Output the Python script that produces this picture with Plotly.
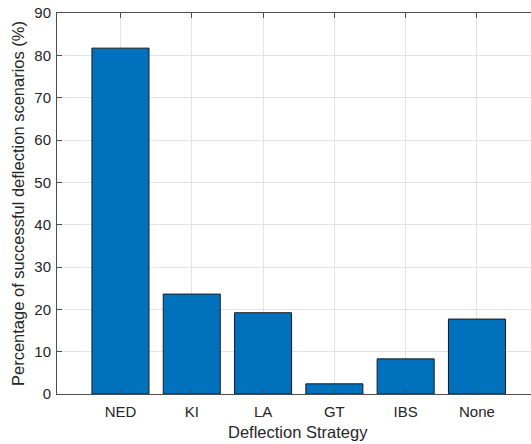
import plotly.graph_objects as go

categories = ["NED", "KI", "LA", "GT", "IBS", "None"]
success_pct = [81.7, 23.6, 19.2, 2.4, 8.3, 17.7]
y_ticks = [0, 10, 20, 30, 40, 50, 60, 70, 80, 90]

axis_col = "#4d4d4d"
grid_col = "#e3e3e3"
text_col = "#262626"
font_fam = "Liberation Sans, Arial, sans-serif"

xr = [-0.89, 5.758]

fig = go.Figure()
fig.add_trace(go.Bar(
    x=list(range(len(categories))), y=success_pct,
    marker=dict(color="#0072BD", line=dict(color="#1a1a1a", width=1)),
    width=0.8, hoverinfo="skip",
))
# invisible trace to carry the top axis
fig.add_trace(go.Scatter(x=[0], y=[0], xaxis="x2", mode="markers",
                         marker=dict(opacity=0), hoverinfo="skip", showlegend=False))

fig.update_layout(
    width=531, height=444,
    margin=dict(l=57, r=0, t=13, b=50, autoexpand=False),
    plot_bgcolor="white", paper_bgcolor="white",
    showlegend=False,
    font=dict(family=font_fam, size=15, color=text_col),
    xaxis=dict(
        range=xr, tickmode="array",
        tickvals=list(range(len(categories))), ticktext=categories,
        showline=True, linecolor=axis_col, linewidth=1,
        ticks="inside", ticklen=5, tickcolor=axis_col,
        showgrid=True, gridcolor=grid_col, zeroline=False,
        ticklabelstandoff=4, ticklabeloverflow="allow",
        tickfont=dict(size=15), automargin=False,
    ),
    xaxis2=dict(
        range=xr, overlaying="x", side="top", anchor="y",
        tickmode="array", tickvals=list(range(len(categories))),
        showticklabels=False, showline=True, linecolor=axis_col, linewidth=1,
        ticks="inside", ticklen=5, tickcolor=axis_col,
        showgrid=False, zeroline=False,
    ),
    yaxis=dict(
        range=[0, 90], tickmode="array", tickvals=y_ticks,
        showline=True, linecolor=axis_col, linewidth=1,
        ticks="inside", ticklen=5, tickcolor=axis_col,
        showgrid=True, gridcolor=grid_col, zeroline=False,
        ticklabelstandoff=2, ticklabeloverflow="allow",
        title=dict(text="Percentage of successful deflection scenarios (%)",
                   standoff=5, font=dict(size=16.5)),
        tickfont=dict(size=15), automargin=False,
    ),
    annotations=[dict(
        text="Deflection Strategy", xref="x", yref="paper",
        x=2.49, y=0, xanchor="center", yanchor="middle", yshift=-38,
        showarrow=False, font=dict(size=16.5, color=text_col),
    )],
)

fig.write_html(
    "out.html",
    config={"displayModeBar": False},
    post_script="document.body.style.margin='0';document.body.style.overflow='hidden';",
)
